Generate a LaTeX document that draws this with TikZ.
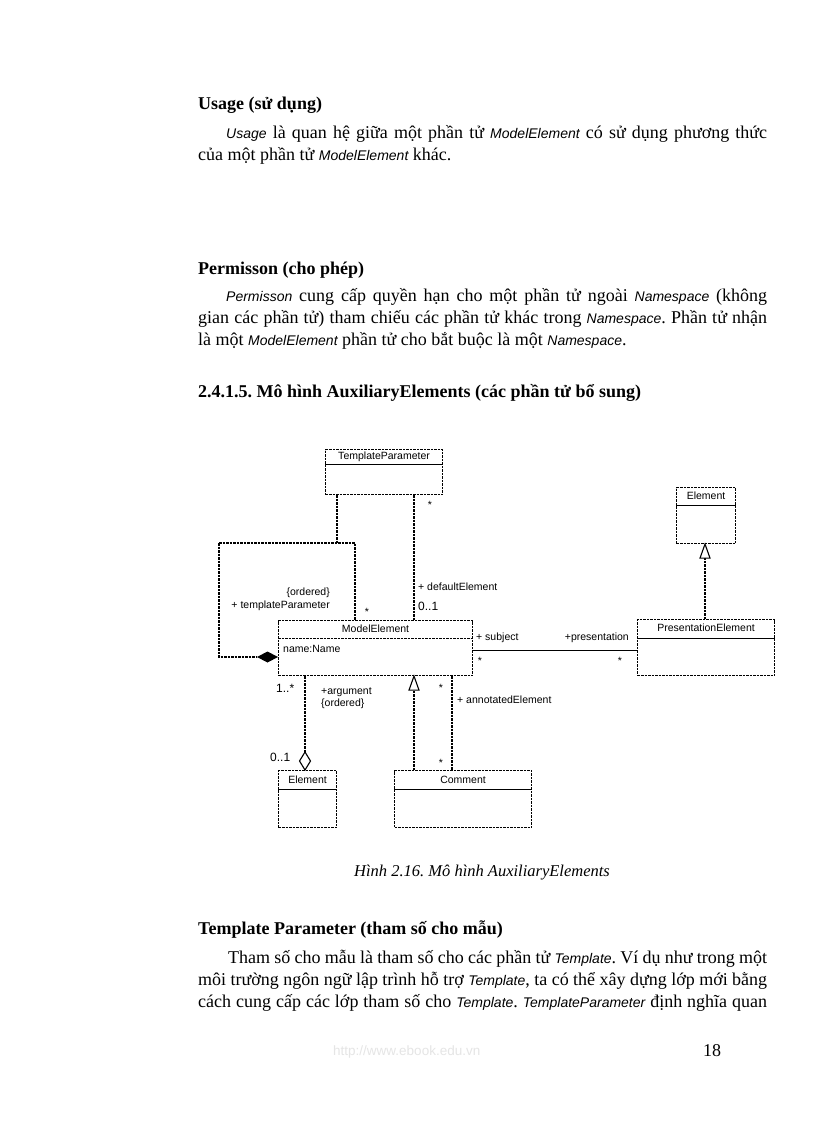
\documentclass[tikz,border=0pt]{standalone}
\usepackage{fontspec}
\setmainfont{Liberation Serif}
\setsansfont{Liberation Sans}
\usetikzlibrary{calc}
\frenchspacing
\newcommand{\ms}[1]{{\sffamily\itshape\fontsize{14}{22}\selectfont #1}}
\newcommand{\jline}[2]{\makebox[#1pt][s]{#2}}
\tikzset{
  txt/.style={inner sep=0pt, anchor=base west, font=\fontsize{18}{22}\selectfont},
  hd/.style={inner sep=0pt, anchor=base west, font=\bfseries\fontsize{18}{22}\selectfont},
  dline/.style={line width=1.1pt, dash pattern=on 2.5pt off 1pt},
  cls/.style={draw, line width=1.1pt, dash pattern=on 2.5pt off 1pt, inner sep=0pt, anchor=north west},
  divsolid/.style={line width=0.9pt},
  divdash/.style={line width=0.9pt, dash pattern=on 2.5pt off 1pt},
  hdr/.style={inner sep=0pt, font=\sffamily\fontsize{10.5}{12}\selectfont},
  lab/.style={inner sep=0pt, font=\sffamily\fontsize{10.5}{12}\selectfont},
  labw/.style={lab, anchor=west},
  labe/.style={lab, anchor=east},
  mult/.style={inner sep=0pt, anchor=west, font=\sffamily\fontsize{12}{14}\selectfont},
  star/.style={lab}
}
\begin{document}
\begin{tikzpicture}[x=1pt,y=-1pt]
\useasboundingbox (0,0) rectangle (816,1123);
\fill[white] (0,0) rectangle (816,1123);

% ---------- text ----------
\node[hd] (h1) at (198,110) {Usage (sử dụng)};
\node[txt] (p1a) at (226,139) {\jline{541}{\ms{Usage} là quan hệ giữa một phần tử \ms{ModelElement} có sử dụng phương thức}};
\node[txt] (p1b) at (198,161) {của một phần tử \ms{ModelElement} khác.};

\node[hd] (h2) at (198,274) {Permisson (cho phép)};
\node[txt] (p2a) at (226,301) {\jline{541}{\ms{Permisson} cung cấp quyền hạn cho một phần tử ngoài \ms{Namespace} (không}};
\node[txt] (p2b) at (198,323) {\jline{569}{gian các phần tử) tham chiếu các phần tử khác trong \ms{Namespace}. Phần tử nhận}};
\node[txt] (p2c) at (198,345) {là một \ms{ModelElement} phần tử cho bắt buộc là một \ms{Namespace}.};

\node[hd] (h3) at (198,397) {2.4.1.5. Mô hình AuxiliaryElements (các phần tử bổ sung)};

\node[inner sep=0pt, anchor=base, font=\itshape\fontsize{16.5}{20}\selectfont] (cap) at (482,876) {Hình 2.16. Mô hình AuxiliaryElements};

\node[hd] (h4) at (198,934) {Template Parameter (tham số cho mẫu)};
\node[txt] (p3a) at (228,963) {\jline{539}{Tham số cho mẫu là tham số cho các phần tử \ms{Template}. Ví dụ như trong một}};
\node[txt] (p3b) at (198,985) {\jline{569}{môi trường ngôn ngữ lập trình hỗ trợ \ms{Template}, ta có thể xây dựng lớp mới bằng}};
\node[txt] (p3c) at (198,1007) {\jline{569}{cách cung cấp các lớp tham số cho \ms{Template}. \ms{TemplateParameter} định nghĩa quan}};

\node[inner sep=0pt, anchor=base west, text=black!10, font=\sffamily\fontsize{13.5}{15}\selectfont] (url) at (333,1055) {http://www.ebook.edu.vn};
\node[inner sep=0pt, anchor=base west, font=\fontsize{18}{22}\selectfont] (pg) at (703,1056) {18};

% ---------- classes ----------
\node[cls, minimum width=117pt, minimum height=45pt] (tp) at (325,449) {};
\draw[divsolid] ([yshift=-15pt]tp.north west) -- ([yshift=-15pt]tp.north east);
\node[hdr] (tpt) at ([yshift=-7.5pt]tp.north) {TemplateParameter};

\node[cls, minimum width=59pt, minimum height=56pt] (ea) at (676,487) {};
\draw[divsolid] ([yshift=-18pt]ea.north west) -- ([yshift=-18pt]ea.north east);
\node[hdr] (eat) at ([yshift=-9pt]ea.north) {Element};

\node[cls, minimum width=137pt, minimum height=56pt] (pe) at (637,619) {};
\draw[divsolid] ([yshift=-19pt]pe.north west) -- ([yshift=-19pt]pe.north east);
\node[hdr] (pet) at ([yshift=-9pt]pe.north) {PresentationElement};

\node[cls, minimum width=194pt, minimum height=55pt] (me) at (278,620) {};
\draw[divdash] ([yshift=-18pt]me.north west) -- ([yshift=-18pt]me.north east);
\node[hdr] (met) at ([yshift=-8.5pt]me.north) {ModelElement};
\node[hdr, anchor=west] (mea) at (283,649) {name:Name};

\node[cls, minimum width=58pt, minimum height=57pt] (eb) at (278,770) {};
\draw[divsolid] ([yshift=-19pt]eb.north west) -- ([yshift=-19pt]eb.north east);
\node[hdr] (ebt) at ([yshift=-9.5pt]eb.north) {Element};

\node[cls, minimum width=137pt, minimum height=57pt] (cm) at (394,770) {};
\draw[divsolid] ([yshift=-19pt]cm.north west) -- ([yshift=-19pt]cm.north east);
\node[hdr] (cmt) at ([yshift=-9.5pt]cm.north) {Comment};

% ---------- connectors ----------
\coordinate (d1) at (414,494);
\draw[dline] (d1 |- tp.south) -- (d1 |- me.north);
\node[star] (s1) at (430,505) {*};
\node[labw] (l1) at (418,587) {+ defaultElement};
\node[mult] (m1) at (418,606) {0..1};

\coordinate (t1) at (337,543);
\coordinate (t2) at (219,543);
\coordinate (t3) at (355,543);
\coordinate (t4) at (219,657);
\coordinate (t5) at (257,657);
\draw[dline] (t1 |- tp.south) -- (t1);
\draw[dline] (t2) -- (t3) -- (t3 |- me.north);
\draw[dline] (t2) -- (t4) -- (t5);
\fill (me.west |- t5) -- ++(-10.5,-5.5) -- (t5) -- ++(10.5,5.5) -- cycle;
\node[labe] (l2) at (330,593) {\{ordered\}};
\node[labe] (l3) at (330,606) {+ templateParameter};
\node[star] (s2) at (367,612) {*};

\coordinate (a1) at (472,650);
\draw[line width=1pt] (a1 -| me.east) -- (a1 -| pe.west);
\node[labw] (l4) at (476,638) {+ subject};
\node[labe] (l5) at (629,638) {+presentation};
\node[star] (s3) at (480,661) {*};
\node[star] (s4) at (620,661) {*};

\coordinate (g1) at (705,557);
\draw[dline] (g1 |- pe.north) -- (g1);
\draw[line width=1.1pt, fill=white] (g1 |- ea.south) -- ++(5,14) -- ++(-10,0) -- cycle;

\coordinate (g2) at (414,689);
\draw[dline] (g2 |- cm.north) -- (g2);
\draw[line width=1.1pt, fill=white] (g2 |- me.south) -- ++(5,14) -- ++(-10,0) -- cycle;

\coordinate (n1) at (452,675);
\draw[dline] (n1 |- me.south) -- (n1 |- cm.north);
\node[star] (s5) at (441,688) {*};
\node[labw] (l6) at (457,700) {+ annotatedElement};
\node[star] (s6) at (441,763) {*};

\coordinate (r1) at (305,752);
\draw[dline] (r1 |- me.south) -- (r1);
\draw[line width=1.1pt, fill=white] (r1) -- ++(-5.5,9) -- (r1 |- eb.north) -- ++(5.5,-9) -- cycle;
\node[mult] (m2) at (276,688) {1..*};
\node[labw] (l7) at (321,692) {+argument};
\node[labw] (l8) at (321,704) {\{ordered\}};
\node[mult] (m3) at (270,757) {0..1};
\end{tikzpicture}
\end{document}
